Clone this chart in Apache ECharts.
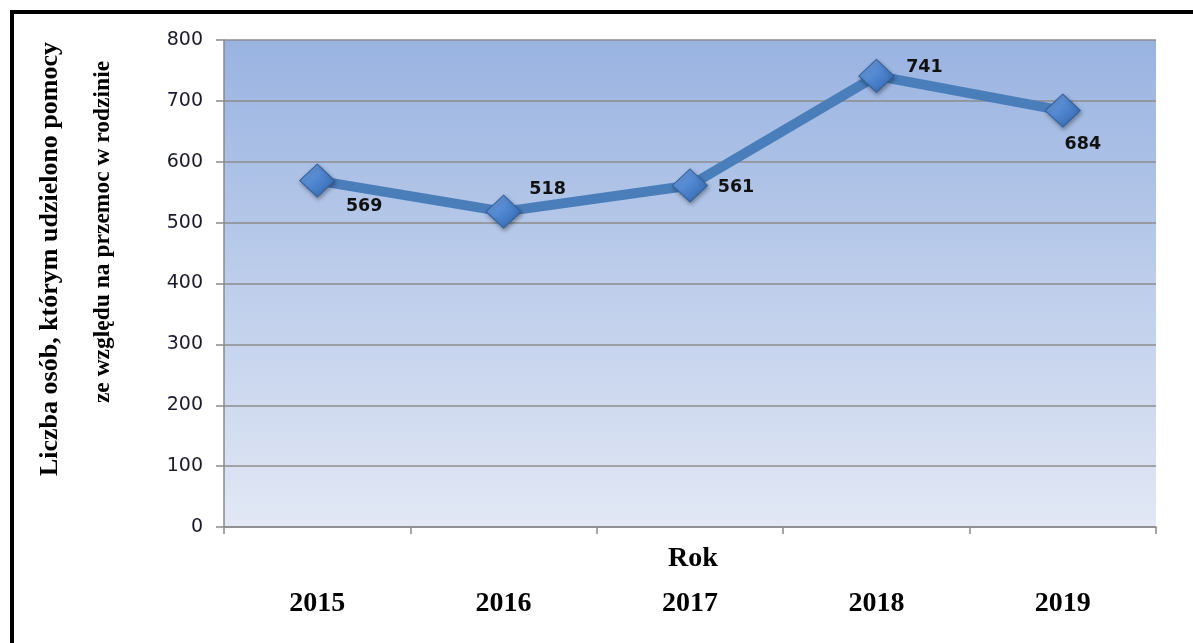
<!DOCTYPE html>
<html>
<head>
<meta charset="utf-8">
<script src="https://cdn.jsdelivr.net/npm/echarts@6/dist/echarts.min.js"></script>
<style>
html,body{margin:0;padding:0;background:#fff;}
#chart{width:1193px;height:643px;}
</style>
</head>
<body>
<div id="chart"></div>
<script>
const categories = ['2015', '2016', '2017', '2018', '2019'];
const values = [569, 518, 561, 741, 684];
const yTicks = [0, 100, 200, 300, 400, 500, 600, 700, 800];
const xAxisTitle = 'Rok';
const yTitleLine1 = 'Liczba osób, którym udzielono pomocy';
const yTitleLine2 = 'ze względu na przemoc w rodzinie';

const labelOffsets = [[47, 26], [44, -22], [46, 2], [48, -8], [20, 34]];

const chart = echarts.init(document.getElementById('chart'));
const option = {
  animation: false,
  backgroundColor: '#ffffff',
  grid: {
    left: 224, top: 40, right: 37, bottom: 116,
    show: true,
    borderWidth: 0,
    backgroundColor: new echarts.graphic.LinearGradient(0, 0, 0, 1, [
      {offset: 0, color: '#99b3e1'},
      {offset: 1, color: '#e2e8f5'}
    ])
  },
  xAxis: {
    type: 'category',
    data: categories,
    boundaryGap: true,
    axisLine: {lineStyle: {color: '#8a8a8a', width: 1.5}},
    axisTick: {show: true, length: 7, lineStyle: {color: '#8a8a8a', width: 1.5}},
    axisLabel: {margin: 63, fontFamily: 'Liberation Serif', fontWeight: 'bold', fontSize: 28, color: '#000'},
    splitLine: {show: false}
  },
  yAxis: {
    type: 'value',
    min: yTicks[0],
    max: yTicks[yTicks.length - 1],
    interval: yTicks[1] - yTicks[0],
    axisLine: {show: true, lineStyle: {color: '#8a8a8a', width: 1.5}},
    axisTick: {show: true, length: 8, lineStyle: {color: '#8a8a8a', width: 1.5}},
    axisLabel: {margin: 21, fontFamily: 'DejaVu Sans', fontSize: 19, color: '#1a1a2a'},
    splitLine: {show: true, lineStyle: {color: '#8c8c8c', width: 1.5}}
  },
  series: [{
    type: 'line',
    data: values.map((v, i) => ({
      value: v,
      label: {offset: labelOffsets[i]}
    })),
    symbol: 'diamond',
    symbolSize: [35, 33],
    lineStyle: {color: '#4a7ebb', width: 10},
    itemStyle: {
      color: new echarts.graphic.LinearGradient(0, 0, 1, 1, [
        {offset: 0, color: '#79a6e6'},
        {offset: 0.5, color: '#4f86cf'},
        {offset: 1, color: '#2f62a8'}
      ]),
      borderColor: '#30609f',
      borderWidth: 1,
      shadowColor: 'rgba(0,0,0,0.35)',
      shadowBlur: 4,
      shadowOffsetX: 1,
      shadowOffsetY: 2
    },
    label: {
      show: true,
      position: 'inside',
      fontFamily: 'DejaVu Sans',
      fontWeight: 'bold',
      fontSize: 17.5,
      color: '#111'
    },
    z: 3
  }],
  graphic: [
    {
      type: 'rect',
      shape: {x: 12, y: 12, width: 1250, height: 800},
      style: {fill: null, stroke: '#000', lineWidth: 4},
      silent: true
    },
    {
      type: 'text',
      x: 693, y: 559,
      style: {text: xAxisTitle, fontFamily: 'Liberation Serif', fontWeight: 'bold', fontSize: 28, fill: '#000', align: 'center', verticalAlign: 'middle'}
    },
    {
      type: 'text',
      x: 50, y: 259,
      rotation: Math.PI / 2,
      style: {text: yTitleLine1, fontFamily: 'Liberation Serif', fontWeight: 'bold', fontSize: 26, fill: '#000', align: 'center', verticalAlign: 'middle'}
    },
    {
      type: 'text',
      x: 103, y: 232,
      rotation: Math.PI / 2,
      style: {text: yTitleLine2, fontFamily: 'Liberation Serif', fontWeight: 'bold', fontSize: 23.5, fill: '#000', align: 'center', verticalAlign: 'middle'}
    }
  ]
};
chart.setOption(option);
</script>
</body>
</html>
